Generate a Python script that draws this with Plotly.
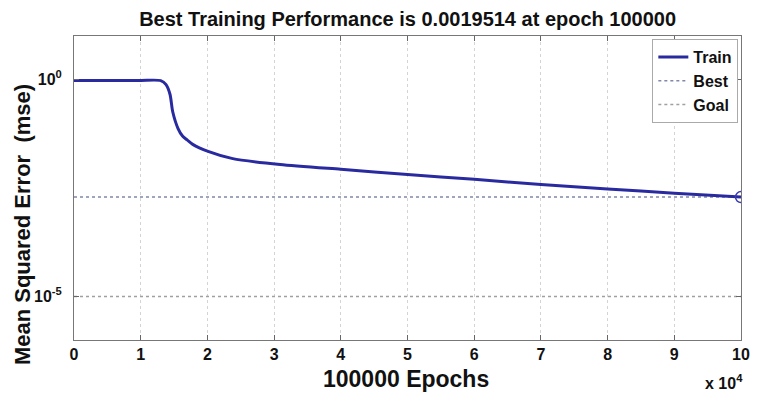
import plotly.graph_objects as go

# Data (epochs in units of 1e4, mse values)
epochs_e4 = [0, 0.5, 1.0, 1.3, 1.38, 1.44, 1.48, 1.56, 1.63, 1.7, 1.78, 2.01, 2.38,
             3.09, 4.0, 5.0, 6.0, 7.0, 8.0, 9.0, 10.0]
train_mse = [0.95, 0.95, 0.95, 0.94, 0.76, 0.45, 0.18, 0.074, 0.049, 0.040, 0.032,
             0.022, 0.015, 0.011, 0.0085, 0.0065, 0.0050, 0.0038, 0.0030, 0.0024, 0.0019514]
best_value = 0.0019514
best_epoch_e4 = 10.0
goal_value = 1e-5
x_ticks = [0, 1, 2, 3, 4, 5, 6, 7, 8, 9, 10]
y_tickvals = [1e-5, 1e0]
y_ticktext = ["10<sup>-5</sup>", "10<sup>0</sup>"]

FONT = "Liberation Sans, Arial, Helvetica, sans-serif"

fig = go.Figure()
fig.add_trace(go.Scatter(x=[0, 10], y=[best_value, best_value], mode="lines",
                         line=dict(color="#8088a8", width=1.5, dash="dot"),
                         name="<b>Best</b>", legendrank=2))
fig.add_trace(go.Scatter(x=[0, 10], y=[goal_value, goal_value], mode="lines",
                         line=dict(color="#a0a0a0", width=1.5, dash="dot"),
                         name="<b>Goal</b>", legendrank=3))
fig.add_trace(go.Scatter(x=epochs_e4, y=train_mse, mode="lines",
                         line=dict(color="#2a2aa0", width=3, shape="spline", smoothing=0.7),
                         name="<b>Train</b>", legendrank=1))
fig.add_trace(go.Scatter(x=[best_epoch_e4], y=[best_value], mode="markers",
                         marker=dict(symbol="circle-open", size=11, color="#3a3ab0",
                                     line=dict(width=1.5)),
                         showlegend=False))

fig.update_layout(
    width=754, height=386,
    margin=dict(l=66, r=21, t=28, b=54),
    paper_bgcolor="white", plot_bgcolor="white",
    font=dict(family=FONT, color="#111", size=14),
    title=dict(text="<b>Best Training Performance is 0.0019514 at epoch 100000</b>",
               x=0.53, xanchor="center", y=0.972, yanchor="middle",
               font=dict(size=20, family=FONT, color="#111")),
    legend=dict(x=0.996, y=0.99, xanchor="right", yanchor="top",
                bgcolor="white", bordercolor="#aaa", borderwidth=1,
                font=dict(size=16, family=FONT, color="#111"),
                itemwidth=30, tracegroupgap=0),
    showlegend=True,
)
fig.update_xaxes(range=[0, 10], tickvals=x_ticks, ticktext=[f"<b>{t}</b>" for t in x_ticks],
                 showgrid=True, gridcolor="#d4d4d4", griddash="dot", gridwidth=1,
                 ticks="inside", ticklen=5, tickcolor="#666", mirror="ticks",
                 showline=True, linecolor="#777", linewidth=1, zeroline=False,
                 tickfont=dict(size=16, family=FONT, color="#111"))
fig.update_yaxes(type="log", range=[-6, 1], tickvals=y_tickvals,
                 ticktext=[f"<b>{t}</b>" for t in y_ticktext],
                 showgrid=False, ticks="inside", ticklen=5, tickcolor="#666", mirror="ticks",
                 showline=True, linecolor="#777", linewidth=1, zeroline=False,
                 ticklabelstandoff=8,
                 tickfont=dict(size=16, family=FONT, color="#111"))

fig.add_annotation(text="<b>Mean Squared Error  (mse)</b>", textangle=-90,
                   xref="paper", yref="paper", x=-0.077, y=0.38,
                   xanchor="center", yanchor="middle", showarrow=False,
                   font=dict(size=22, family=FONT, color="#111"))
fig.add_annotation(text="<b>100000 Epochs</b>", xref="paper", yref="paper",
                   x=0.498, y=-0.127, xanchor="center", yanchor="middle", showarrow=False,
                   font=dict(size=23, family=FONT, color="#111"))
fig.add_annotation(text="<b>x 10<sup>4</sup></b>", xref="paper", yref="paper",
                   x=1.006, y=-0.138, xanchor="right", yanchor="middle", showarrow=False,
                   font=dict(size=16, family=FONT, color="#111"))

fig.write_html("out.html")
